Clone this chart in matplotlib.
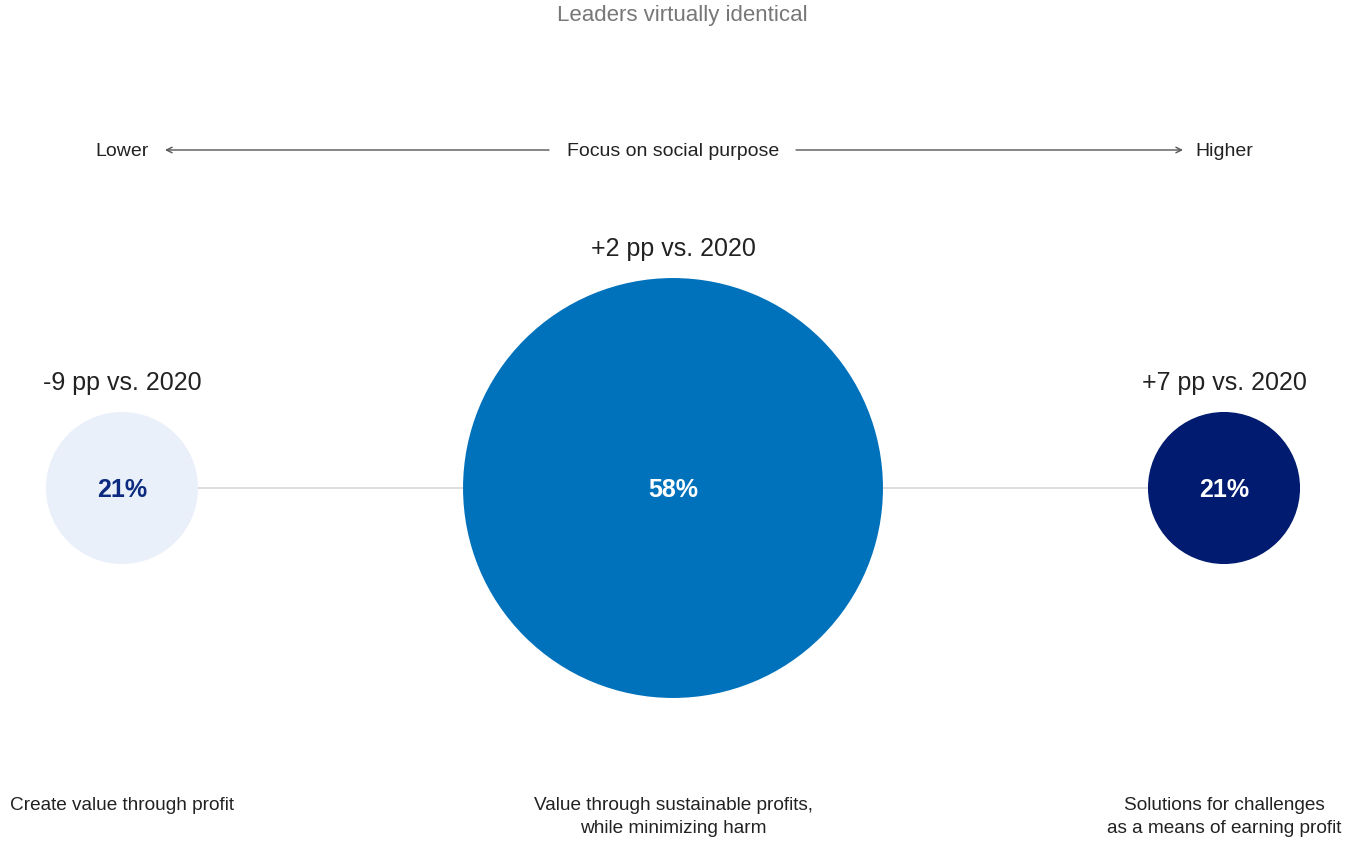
"""Focus on social purpose bubble chart."""
import matplotlib.pyplot as plt
from matplotlib.patches import Circle

plt.rcParams['font.family'] = ['Liberation Sans', 'DejaVu Sans']

# data
categories = ['Create value through profit',
              'Value through sustainable profits,\nwhile minimizing harm',
              'Solutions for challenges\nas a means of earning profit']
shares = [21, 58, 21]
changes = ['-9 pp vs. 2020', '+2 pp vs. 2020', '+7 pp vs. 2020']

fill_colors = ['#e9f0fa', '#0071bb', '#001b6f']
value_colors = ['#0c2a80', 'white', 'white']

W, H = 1364, 845
fig = plt.figure(figsize=(W / 100, H / 100), dpi=100)
ax = fig.add_axes([0, 0, 1, 1])
ax.set_xlim(0, W)
ax.set_ylim(H, 0)
ax.axis('off')

xs = [122, 673, 1224]
cy = 489
px_per_pt = 3.62  # radius in px per percentage point

# connecting line behind bubbles
ax.plot([xs[0], xs[-1]], [cy, cy], color='#d9d9d9', lw=1.2, zorder=1)

for x, v, ch, cat, fc, tc in zip(xs, shares, changes, categories, fill_colors, value_colors):
    r = v * px_per_pt
    ax.add_patch(Circle((x, cy), r, facecolor=fc, edgecolor='none', zorder=2))
    ax.text(x, cy + 1, f'{v}%', ha='center', va='center', color=tc,
            fontsize=18, fontweight='bold', zorder=3)
    ax.text(x, cy - r - 30, ch, ha='center', va='center', color='#222222',
            fontsize=18)
    ax.text(x, 797, cat, ha='center', va='top', color='#222222',
            fontsize=13.7, linespacing=1.5)

# title
ax.text(W / 2, 16, 'Leaders virtually identical', ha='center', va='center',
        color='#777777', fontsize=16)

# axis arrow
ay = 151
ax.text(xs[0], ay + 1, 'Lower', ha='center', va='center', color='#222222', fontsize=14)
ax.text(xs[-1], ay + 1, 'Higher', ha='center', va='center', color='#222222', fontsize=14)
ax.text(673, ay + 1, 'Focus on social purpose', ha='center', va='center',
        color='#222222', fontsize=14)
arrow = dict(arrowstyle='->', color='#555555', lw=1.0, mutation_scale=10,
             shrinkA=0, shrinkB=0)
ax.annotate('', xy=(165, ay), xytext=(549, ay), arrowprops=arrow)
ax.annotate('', xy=(1183, ay), xytext=(796, ay), arrowprops=arrow)

plt.savefig('out.png', dpi=100, facecolor='white')
